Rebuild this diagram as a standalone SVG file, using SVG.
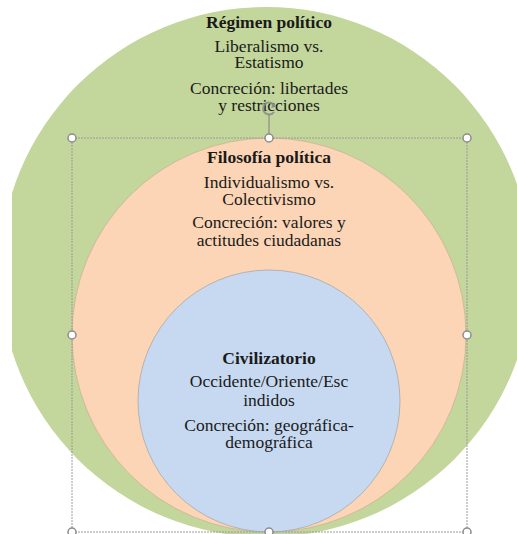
<svg xmlns="http://www.w3.org/2000/svg" width="517" height="534" viewBox="0 0 517 534">
<style>
.t{font-family:"Liberation Serif","Times New Roman",serif;font-size:17.5px;fill:#1a1a1a;text-anchor:middle}
.b{font-weight:bold}
.h{fill:#fff;stroke:#8c8c8c;stroke-width:1.5}
.sel{fill:none;stroke:#9a9a9a;stroke-width:1;stroke-dasharray:2 1}
</style>
<defs>
<clipPath id="clipL"><rect x="12" y="0" width="505" height="534"/></clipPath>
</defs>
<rect width="517" height="534" fill="#fff"/>
<g id="regimen">
<ellipse cx="266" cy="272" rx="266" ry="265" fill="#C3D69B" clip-path="url(#clipL)"/>
<text class="t b" x="269" y="27.5">Régimen político</text>
<text class="t" x="269" y="51.7">Liberalismo vs.</text>
<text class="t" x="269" y="68.3">Estatismo</text>
<text class="t" x="269" y="94">Concreción: libertades</text>
<text class="t" x="269" y="111">y restricciones</text>
</g>
<g id="filosofia">
<circle cx="269" cy="335" r="197" fill="#FBD5B5" stroke="#b8a08a" stroke-opacity="0.5" stroke-width="1"/>
<text class="t b" x="269" y="163.3">Filosofía política</text>
<text class="t" x="269" y="187.7">Individualismo vs.</text>
<text class="t" x="269" y="205">Colectivismo</text>
<text class="t" x="269" y="228.3">Concreción: valores y</text>
<text class="t" x="269" y="246">actitudes ciudadanas</text>
</g>
<g id="civilizatorio">
<circle cx="269" cy="401" r="131" fill="#C6D9F1" stroke="#9a9a9a" stroke-opacity="0.6" stroke-width="1"/>
<text class="t b" x="269" y="364">Civilizatorio</text>
<text class="t" x="269" y="387.3">Occidente/Oriente/Esc</text>
<text class="t" x="269" y="406">indidos</text>
<text class="t" x="269" y="431">Concreción: geográfica-</text>
<text class="t" x="269" y="447.7">demográfica</text>
</g>
<g id="connectors">
<rect class="sel" x="72" y="138" width="395" height="394"/>
<line x1="269" y1="114" x2="269" y2="134" stroke="#8c8c8c" stroke-width="1.2"/>
<path d="M274.5 106 A6 6 0 1 0 274 112" fill="none" stroke="#8c8c8c" stroke-width="2" stroke-opacity="0.85"/>
<path d="M272 103 L276.5 106.5 L271.5 108 Z" fill="#8c8c8c"/>
<circle class="h" cx="72" cy="138" r="4"/>
<circle class="h" cx="269" cy="138" r="4"/>
<circle class="h" cx="467" cy="138" r="4"/>
<circle class="h" cx="72" cy="335" r="4"/>
<circle class="h" cx="467" cy="335" r="4"/>
<circle class="h" cx="72" cy="532" r="4"/>
<circle class="h" cx="269" cy="532" r="4"/>
<circle class="h" cx="467" cy="532" r="4"/>
</g>
</svg>
